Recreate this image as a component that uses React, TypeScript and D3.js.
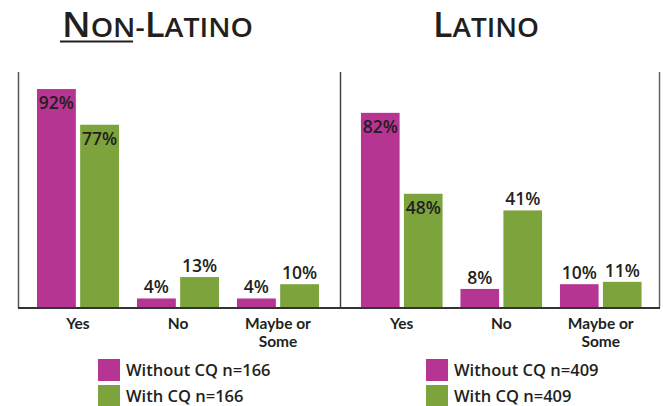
import React from "react";
import * as d3 from "d3";

const categories = ["Yes", "No", "Maybe or Some"];
const categoryLines = [["Yes"], ["No"], ["Maybe or", "Some"]];
const seriesNames = ["Without CQ", "With CQ"];
const nonLatinoWithout = [92, 4, 4];
const nonLatinoWith = [77, 13, 10];
const latinoWithout = [82, 8, 10];
const latinoWith = [48, 41, 11];
const nonLatinoN = 166;
const latinoN = 409;

const COLORS = ["#B73592", "#7DA33D"];
const TEXT = "#231F20";
const FONT = "'Open Sans', 'Noto Sans', sans-serif";
const CAT_FONT = "Lato, 'Open Sans', sans-serif";

const W = 663;
const H = 406;
const yBase = 308;
const yTop = 70;

type PanelProps = {
  range: [number, number];
  without: number[];
  withCq: number[];
  n: number;
  legendX: number;
};

function Panel({ range, without, withCq, n, legendX }: PanelProps) {
  const x = d3.scaleBand<string>().domain(categories).range(range).paddingInner(0.18).paddingOuter(0.09);
  const xs = d3.scaleBand<string>().domain(seriesNames).range([0, x.bandwidth()]).paddingInner(0.1);
  const y = d3.scaleLinear().domain([0, 100]).range([yBase, yTop]);
  const data = [without, withCq];
  return (
    <g>
      {categories.map((c, ci) => (
        <g key={c}>
          {seriesNames.map((s, si) => {
            const v = data[si][ci];
            const bx = (x(c) as number) + (xs(s) as number);
            const by = y(v);
            const inside = v > 45;
            return (
              <g key={s}>
                <rect x={bx} y={by} width={xs.bandwidth()} height={yBase - by} fill={COLORS[si]} />
                <text
                  x={bx + xs.bandwidth() / 2}
                  y={inside ? by + 20 : by - 5}
                  textAnchor="middle"
                  fontFamily={FONT}
                  fontSize={17.5}
                  fontWeight={600}
                  fill={TEXT}
                >
                  {v}%
                </text>
              </g>
            );
          })}
          {categoryLines[ci].map((line, li) => (
            <text
              key={line}
              x={(x(c) as number) + x.bandwidth() / 2}
              y={329 + li * 18}
              textAnchor="middle"
              fontFamily={CAT_FONT}
              fontSize={15.5}
              fontWeight={700}
              fill={TEXT}
            >
              {line}
            </text>
          ))}
        </g>
      ))}
      {seriesNames.map((s, si) => (
        <g key={s}>
          <rect x={legendX} y={359 + si * 26} width={22} height={22} fill={COLORS[si]} />
          <text
            x={legendX + 28}
            y={376 + si * 26}
            fontFamily={FONT}
            fontSize={16.5}
            fontWeight={600}
            fill={TEXT}
          >
            {`${s} n=${n}`}
          </text>
        </g>
      ))}
    </g>
  );
}

export default function App() {
  return (
    <div style={{ position: "fixed", left: 0, top: 0, width: W, height: H, background: "#fff" }}>
      <svg width={W} height={H} viewBox={`0 0 ${W} ${H}`}>
        <rect x={0} y={0} width={W} height={H} fill="#fff" />
        <text x={62} y={37} fontFamily={FONT} fontWeight={600} fill={TEXT} textLength={191} lengthAdjust="spacingAndGlyphs">
          <tspan fontSize={34}>N</tspan>
          <tspan fontSize={26.5}>ON</tspan>
          <tspan fontSize={26.5}>-</tspan>
          <tspan fontSize={34}>L</tspan>
          <tspan fontSize={26.5}>ATINO</tspan>
        </text>
        <line x1={60} x2={133} y1={41.5} y2={41.5} stroke={TEXT} strokeWidth={2.2} />
        <text x={433} y={37} fontFamily={FONT} fontWeight={600} fill={TEXT} textLength={106} lengthAdjust="spacingAndGlyphs">
          <tspan fontSize={34}>L</tspan>
          <tspan fontSize={26.5}>ATINO</tspan>
        </text>
        <line x1={18.5} x2={18.5} y1={72} y2={308} stroke="#555" strokeWidth={1.5} />
        <line x1={340.5} x2={340.5} y1={72} y2={308} stroke="#444" strokeWidth={1.5} />
        <line x1={659.5} x2={659.5} y1={72} y2={308} stroke="#666" strokeWidth={1.5} />
        <Panel range={[28, 328]} without={nonLatinoWithout} withCq={nonLatinoWith} n={nonLatinoN} legendX={98} />
        <Panel range={[352, 650.5]} without={latinoWithout} withCq={latinoWith} n={latinoN} legendX={426} />
        <line x1={18} x2={660} y1={308} y2={308} stroke="#333" strokeWidth={2.2} />
      </svg>
    </div>
  );
}
